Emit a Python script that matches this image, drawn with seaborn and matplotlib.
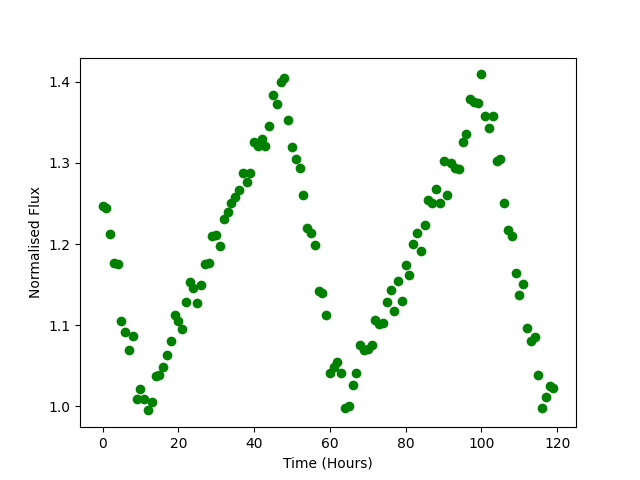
import matplotlib
matplotlib.use("Agg")
import matplotlib.pyplot as plt
import seaborn as sns
import numpy as np
import pandas as pd

hours = list(range(120))
flux = [
    1.247, 1.244, 1.212, 1.177, 1.176, 1.105, 1.091, 1.070, 1.087, 1.009,
    1.021, 1.009, 0.995, 1.005, 1.038, 1.039, 1.049, 1.063, 1.080, 1.113,
    1.105, 1.095, 1.128, 1.153, 1.146, 1.127, 1.149, 1.176, 1.177, 1.210,
    1.211, 1.198, 1.231, 1.240, 1.250, 1.258, 1.266, 1.287, 1.276, 1.288,
    1.326, 1.321, 1.329, 1.321, 1.346, 1.384, 1.373, 1.400, 1.405, 1.353,
    1.320, 1.305, 1.294, 1.261, 1.220, 1.214, 1.199, 1.142, 1.140, 1.113,
    1.041, 1.048, 1.055, 1.041, 0.998, 1.000, 1.026, 1.041, 1.075, 1.069,
    1.071, 1.076, 1.107, 1.102, 1.103, 1.128, 1.143, 1.117, 1.154, 1.130,
    1.174, 1.162, 1.200, 1.213, 1.191, 1.223, 1.254, 1.250, 1.268, 1.251,
    1.302, 1.260, 1.300, 1.294, 1.292, 1.326, 1.336, 1.379, 1.375, 1.374,
    1.409, 1.358, 1.343, 1.358, 1.302, 1.305, 1.251, 1.217, 1.210, 1.164,
    1.137, 1.151, 1.097, 1.081, 1.085, 1.039, 0.998, 1.011, 1.025, 1.022,
]

df = pd.DataFrame({"hours": hours, "flux": flux})

fig, ax = plt.subplots(figsize=(6.4, 4.8), dpi=100)
sns.scatterplot(data=df, x="hours", y="flux", color="green", s=49,
                linewidth=0, ax=ax)
ax.set_xlabel("Time (Hours)")
ax.set_ylabel("Normalised Flux")
fig.savefig("out.png", dpi=100)
